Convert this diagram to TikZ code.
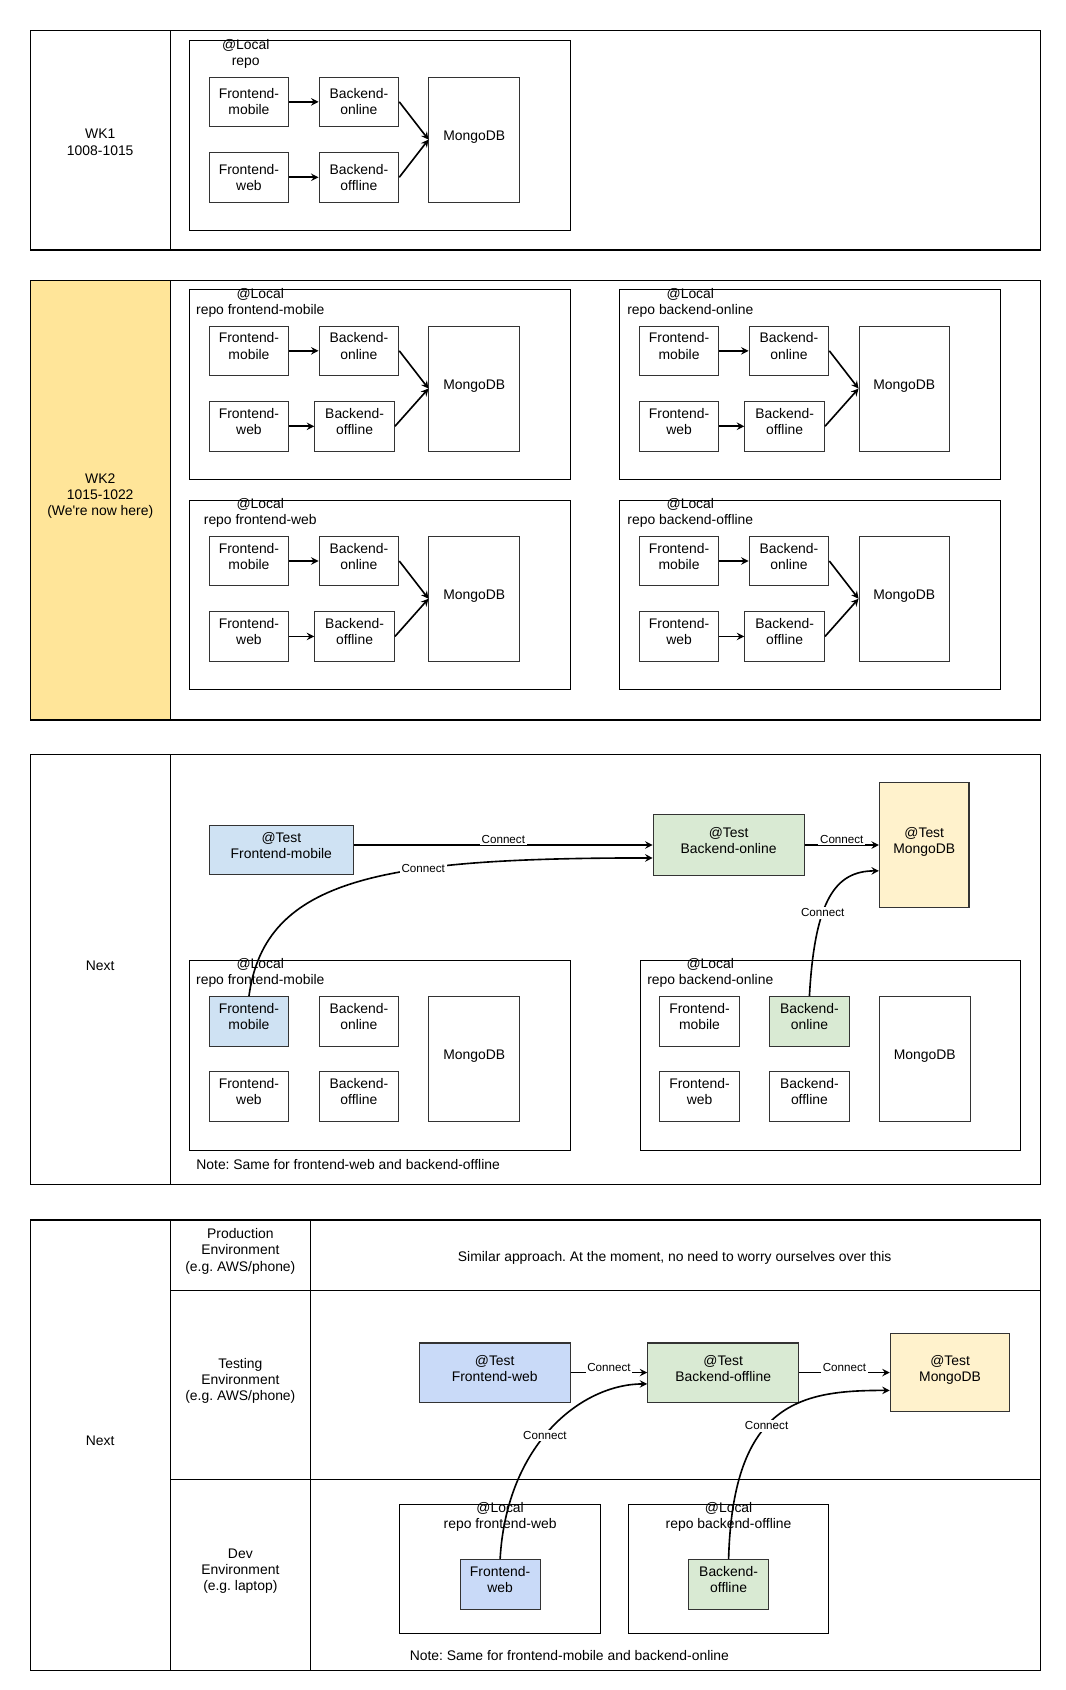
\documentclass[tikz,border=0pt]{standalone}
\usepackage{fontspec}
\setmainfont{Liberation Sans}[Ligatures=TeXOff]
\usetikzlibrary{arrows.meta,calc,positioning}
\frenchspacing
\definecolor{wkcell}{HTML}{FFE599}
\definecolor{mobblue}{HTML}{CFE2F3}
\definecolor{webblue}{HTML}{C9DAF8}
\definecolor{bkgreen}{HTML}{D9EAD3}
\definecolor{dbcream}{HTML}{FFF2CC}
\definecolor{boxline}{HTML}{333333}
\tikzset{
  cell/.style={draw=black,line width=1.1pt},
  repo/.style={draw=black,line width=0.9pt},
  comp/.style={draw=boxline,line width=0.9pt,minimum width=74pt,minimum height=46pt,align=center,inner sep=1pt,text depth=9pt},
  dbbox/.style={comp,minimum width=84pt,minimum height=116pt,text depth=7.7pt},
  testbox/.style={draw=boxline,line width=1pt,align=center,inner sep=1pt,text depth=8pt},
  tag/.style={align=center,inner sep=0pt},
  flow/.style={-{Stealth[length=7pt,width=7pt,inset=2.5pt]},line width=1.5pt},
  conn/.style={font=\fontsize{10.8}{13}\selectfont,fill=white,inner sep=1.5pt},
  fmfill/.style={}, bonfill/.style={}
}
% one local repo: prefix, left, top, label centre, label, x of Backend-offline
\newcommand{\repoblock}[6]{
  \draw[repo] (#2,#3) rectangle ++(353,176);
  \node[tag] (#1lbl) at (#2+#4,#3+12) {@Local\\#5};
  \node[comp,fmfill] (#1fm) at (#2+55,#3+56.5) {Frontend-\\mobile};
  \node[comp,bonfill] (#1bon) at (#2+157,#3+56.5) {Backend-\\online};
  \node[comp] (#1fw) at (#2+55,#3+126.5) {Frontend-\\web};
  \node[comp] (#1boff) at (#2+#6,#3+126.5) {Backend-\\offline};
  \node[dbbox] (#1db) at (#2+264,#3+91.5) {MongoDB};
}

\begin{document}
\begin{tikzpicture}[x=1pt,y=-1pt,font=\fontsize{12.9}{15}\selectfont]
\fill[white] (0,0) rectangle (989,1568);
\useasboundingbox (0,0) rectangle (989,1568);
% WK1
\draw[cell] (28,28) rectangle (965,232) (158,28) -- (158,232);
\node[tag] (wk1) at (93,132) {WK1\\1008-1015};
\begin{scope}[comp/.append style={text depth=0pt}]
\repoblock{a}{176}{38}{52}{repo}{157}
\end{scope}
% WK2
\fill[wkcell] (28,260) rectangle (158,668);
\draw[cell] (28,260) rectangle (965,668) (158,260) -- (158,668);
\node[tag] (wk2) at (93,460) {WK2\\1015-1022\\(We're now here)};
\repoblock{b}{176}{269}{65.5}{repo frontend-mobile}{153}
\repoblock{c}{575}{269}{65.5}{repo backend-online}{153}
\repoblock{d}{176}{464}{65.5}{repo frontend-web}{153}
\repoblock{e}{575}{464}{65.5}{repo backend-offline}{153}
\foreach \blk in {a,b,c,d,e} {
  \draw[flow] (\blk fm) -- (\blk bon);
  \draw[flow] (\blk fw) -- (\blk boff);
  \draw[flow] (\blk bon.east) -- (\blk db.west);
  \draw[flow] (\blk boff.east) -- (\blk db.west);
}
% Next: test servers
\draw[cell] (28,700) rectangle (965,1099) (158,700) -- (158,1099);
\node[tag] (nx1) at (93,896) {Next};
\node[testbox,fill=mobblue,minimum width=134pt,minimum height=45pt] (tfm) at (261,788.5) {@Test\\Frontend-mobile};
\node[testbox,fill=bkgreen,minimum width=140pt,minimum height=56pt] (tbon) at (676,784) {@Test\\Backend-online};
\node[testbox,fill=dbcream,minimum width=83pt,minimum height=116pt] (tdb1) at (857.5,784) {@Test\\MongoDB};
\begin{scope}[fmfill/.style={fill=mobblue}]
\repoblock{f}{176}{891}{65.5}{repo frontend-mobile}{157}
\end{scope}
\begin{scope}[bonfill/.style={fill=bkgreen}]
\repoblock{g}{594}{891}{65}{repo backend-online}{157}
\end{scope}
\node[tag,anchor=west] (note1) at (182,1080) {Note: Same for frontend-web and backend-offline};
\draw[flow] (tfm.east |- tbon) -- node[conn,yshift=5pt]{Connect} (tbon.west);
\draw[flow] (tbon) -- node[conn,yshift=5pt]{Connect} (tdb1);
\draw[flow] (ffm.north) .. controls +(15,-110) and +(-250,0) .. ([yshift=-12pt]tbon.west) node[conn,pos=0.65]{Connect};
\draw[flow] (gbon.north) .. controls +(5,-90) and +(-40,0) .. ([yshift=-24pt]tdb1.west) node[conn,pos=0.38]{Connect};
% Next: environments
\draw[cell] (28,1132) rectangle (965,1550) (158,1132) -- (158,1550) (288,1132) -- (288,1550)
  (158,1197) -- (965,1197) (158,1373) -- (965,1373);
\node[tag] (nx2) at (93,1337) {Next};
\node[tag] (prod) at (223,1161) {Production\\Environment\\(e.g. AWS/phone)};
\node[tag] (prodtxt) at (626,1167) {Similar approach. At the moment, no need to worry ourselves over this};
\node[tag] (testenv) at (223,1281.5) {Testing\\Environment\\(e.g. AWS/phone)};
\node[tag] (devenv) at (223,1458) {Dev\\Environment\\(e.g. laptop)};
\node[testbox,fill=webblue,minimum width=140pt,minimum height=55pt] (tfw) at (459,1273.5) {@Test\\Frontend-web};
\node[testbox,fill=bkgreen,minimum width=140pt,minimum height=55pt] (tboff) at (671,1273.5) {@Test\\Backend-offline};
\node[testbox,fill=dbcream,minimum width=111pt,minimum height=73pt] (tdb2) at (881.5,1273.5) {@Test\\MongoDB};
\draw[repo] (371,1396) rectangle (557,1516) (583,1396) rectangle (769,1516);
\node[tag] (hlbl) at (464,1407) {@Local\\repo frontend-web};
\node[tag] (klbl) at (676,1407) {@Local\\repo backend-offline};
\node[comp,fill=webblue] (hfw) at (464,1470) {Frontend-\\web};
\node[comp,fill=bkgreen] (kboff) at (676,1470) {Backend-\\offline};
\node[tag,anchor=west] (note2) at (380,1536) {Note: Same for frontend-mobile and backend-online};
\draw[flow] (tfw) -- node[conn,yshift=5pt]{Connect} (tboff);
\draw[flow] (tboff) -- node[conn,yshift=5pt]{Connect} (tdb2);
\draw[flow] (hfw.north) .. controls +(6,-107) and +(-61,0) .. ([yshift=-10.5pt]tboff.west) node[conn,pos=0.46]{Connect};
\draw[flow] (kboff.north) .. controls +(4,-147) and +(-81,0) .. ([yshift=-16.5pt]tdb2.west) node[conn,pos=0.43]{Connect};
\end{tikzpicture}
\end{document}
